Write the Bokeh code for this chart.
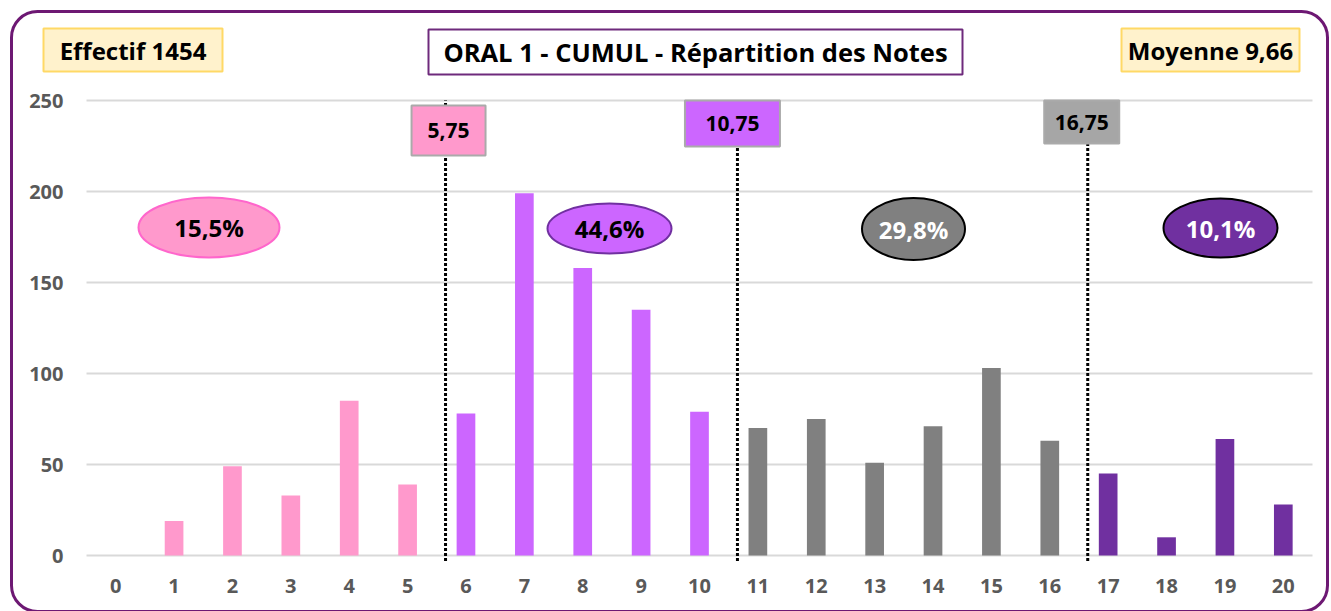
from bokeh.plotting import figure
from bokeh.models import Range1d, FixedTicker, BoxAnnotation, Label, ColumnDataSource
from bokeh.core.properties import value
from bokeh.embed import file_html
from bokeh.resources import INLINE

# ---------------- data ----------------
notes = list(range(21))
effectifs = [0, 19, 49, 33, 85, 39, 78, 199, 158, 135, 79,
             70, 75, 51, 71, 103, 63, 45, 10, 64, 28]
seuils = [5.75, 10.75, 16.75]
moyenne = 9.66
titre = "ORAL 1 - CUMUL - Répartition des Notes"
y_ticks = [0, 50, 100, 150, 200, 250]

# ---------------- styles / layout ----------------
group_colors = ["#ff99cc", "#cc66ff", "#808080", "#7030a0"]
ell_line_colors = ["#ff66cc", "#7030a0", "#000000", "#000000"]
ell_text_colors = ["#000000", "#000000", "#ffffff", "#ffffff"]
seuil_box_colors = ["#ff99cc", "#cc66ff", "#a6a6a6"]
FONT = "Open Sans"

W, H = 1331, 611
# plot area (pixels): x from 86 to 1312 covers -0.5..20.5 ; y 0 at 555, 250 at 100
ppx = (1312 - 86) / 21.0
ppy = (555 - 100) / 250.0
X0 = -0.5 - 86 / ppx
X1 = X0 + W / ppx
Y1 = 250 + 100 / ppy
Y0 = Y1 - H / ppy


def dx(px):  # pixel -> data x
    return X0 + px / ppx


def dy(py):  # pixel -> data y
    return Y1 - py / ppy


def fmt(v, d=2):
    return f"{v:.{d}f}".replace(".", ",")


total = sum(effectifs)
groups = [sum(1 for s in seuils if n > s) for n in notes]
colors = [group_colors[g] for g in groups]
pcts = [100.0 * sum(e for e, g in zip(effectifs, groups) if g == k) / total for k in range(4)]

p = figure(width=W, height=H, x_range=Range1d(X0, X1), y_range=Range1d(Y0, Y1),
           output_backend="svg", toolbar_location=None,
           min_border_left=0, min_border_right=0, min_border_top=0, min_border_bottom=0)
p.outline_line_color = None
p.background_fill_color = "white"
p.border_fill_color = "white"
p.xgrid.visible = False
p.ygrid.visible = False

for ax, tks in ((p.xaxis, notes), (p.yaxis, y_ticks)):
    ax.ticker = FixedTicker(ticks=tks)
    ax.axis_line_color = None
    ax.major_tick_line_color = None
    ax.minor_tick_line_color = None
    ax.major_tick_out = 0
    ax.major_tick_in = 0
    ax.minor_tick_out = 0
    ax.major_label_text_font = FONT
    ax.major_label_text_font_style = "bold"
    ax.major_label_text_font_size = "20px"
    ax.major_label_text_color = "#595959"
p.yaxis.fixed_location = notes[0] - 0.5
p.xaxis.fixed_location = 0
p.yaxis.major_label_standoff = 23
p.xaxis.major_label_standoff = 23

# horizontal grid lines over the category range
n = len(y_ticks)
p.segment(x0=[notes[0] - 0.5] * n, x1=[notes[-1] + 0.5] * n, y0=y_ticks, y1=y_ticks,
          line_color="#d9d9d9", line_width=2, level="underlay")

# bars
src = ColumnDataSource(dict(x=notes, top=effectifs, color=colors))
p.vbar(x="x", top="top", width=0.32, fill_color="color", line_color=None, source=src)

# threshold lines
line_x = [s - 0.1 for s in seuils]
p.segment(x0=line_x, x1=line_x, y0=[-3] * 3, y1=[y_ticks[-1]] * 3,
          line_color="black", line_width=3, line_dash="3 2")

# threshold label boxes
box_w = [74, 95, 75]
box_dx = [3, -5, -6]
box_tb = [(105, 155), (100, 146), (100, 143)]
for i, s in enumerate(seuils):
    cx = line_x[i] + box_dx[i] / ppx
    half = box_w[i] / 2 / ppx
    t, b = box_tb[i]
    p.add_layout(BoxAnnotation(left=cx - half, right=cx + half, top=dy(t), bottom=dy(b),
                               fill_color=seuil_box_colors[i], fill_alpha=1,
                               line_color="#aaaaaa", line_width=2, line_alpha=1,
                               level="annotation"))
    p.add_layout(Label(x=cx, y=dy((t + b) / 2), text=fmt(s), text_align="center",
                       text_baseline="middle", text_font=FONT, text_font_style="bold",
                       text_font_size="21px", text_color="black"))

# percentage ellipses
ell_cx = [208.5, 609, 913, 1220]
ell_cy = [227, 228, 228.5, 227.5]
ell_w = [141, 124, 103, 114]
ell_h = [60, 50, 62, 59]
esrc = ColumnDataSource(dict(
    x=[dx(v) for v in ell_cx], y=[dy(v) for v in ell_cy], w=ell_w, h=ell_h,
    fill=group_colors, line=ell_line_colors, tc=ell_text_colors,
    txt=[fmt(v, 1) + "%" for v in pcts]))
p.ellipse(x="x", y="y", width="w", height="h", width_units="screen", height_units="screen",
          fill_color="fill", line_color="line", line_width=2, source=esrc)
p.text(x="x", y="y", text="txt", text_color="tc", text_align="center", text_baseline="middle",
       text_font=value(FONT), text_font_style="bold", text_font_size="24px", source=esrc)

# header boxes
headers = [
    (f"Effectif {total}", (43, 28, 222, 71), "#fff2cc", "#ffd966", "24px"),
    (titre, (428, 29, 962, 74), "#ffffff", "#6e2a7c", "25.5px"),
    (f"Moyenne {fmt(moyenne)}", (1121, 28, 1299, 71), "#fff2cc", "#ffd966", "24px"),
]
for txt, (l, t, r, b), fc, lc, fs in headers:
    p.add_layout(BoxAnnotation(left=dx(l), right=dx(r), top=dy(t), bottom=dy(b),
                               fill_color=fc, fill_alpha=1, line_color=lc, line_width=2,
                               line_alpha=1, level="annotation"))
    p.add_layout(Label(x=dx((l + r) / 2), y=dy((t + b) / 2), text=txt, text_align="center",
                       text_baseline="middle", text_font=FONT, text_font_style="bold",
                       text_font_size=fs, text_color="black"))

# outer rounded frame
p.add_layout(BoxAnnotation(left=dx(11), right=dx(1327), top=dy(11), bottom=dy(611),
                           fill_color=None, fill_alpha=0, line_color="#6d1873", line_width=3,
                           line_alpha=1, border_radius=26, level="overlay"))

open("out.html", "w").write(file_html(p, INLINE))
